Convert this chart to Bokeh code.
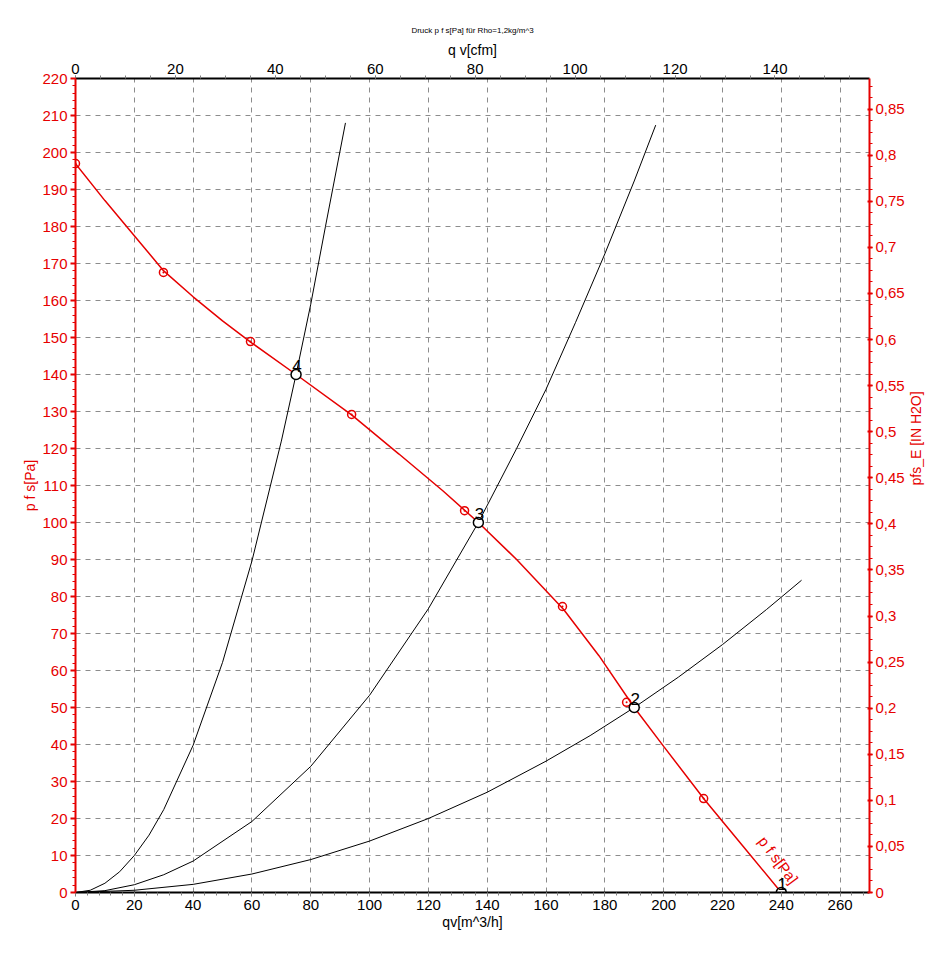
import math
from bokeh.plotting import figure
from bokeh.models import (Range1d, LinearAxis, SingleIntervalTicker, CustomJSTickFormatter,
                          ColumnDataSource, Label)
from bokeh.core.properties import value
from bokeh.embed import file_html
from bokeh.resources import INLINE

# ---------------- data ----------------
# fan curve p_fs [Pa] vs qv [m^3/h]
fan_x = [0, 10, 20, 30, 40, 50, 60, 75, 94, 110, 125, 137, 150, 166, 178, 190, 200, 214, 227, 240]
fan_y = [197, 187, 177.5, 168, 161, 154.5, 148.5, 140, 129, 118.5, 108.5, 100, 90, 76.5, 64, 50, 39.5, 25, 12.5, 0]
# measured points on the fan curve
meas_x = [0, 29.9, 59.5, 93.9, 132.3, 165.6, 187.4, 213.6]
meas_y = [197, 167.6, 148.9, 129.2, 103.2, 77.3, 51.4, 25.4]

# system curves
sys4_x = [0, 5, 10, 15, 20, 25, 30, 40, 50, 60, 70, 75, 80, 85, 91.8]
sys4_y = [0, 0.6, 2.5, 5.6, 10, 15.5, 22.4, 39.8, 62.2, 89.6, 122, 140, 159, 180, 208]
sys3_x = [0, 10, 20, 30, 40, 60, 80, 100, 120, 137, 150, 160, 170, 180, 190, 197.3]
sys3_y = [0, 0.5, 2.1, 4.8, 8.5, 19.2, 34.1, 53.3, 76.7, 100, 120, 136, 154, 172.6, 192.3, 207.4]
sys2_x = [0, 20, 40, 60, 80, 100, 120, 140, 160, 175, 190, 205, 220, 235, 246.9]
sys2_y = [0, 0.6, 2.2, 5, 8.9, 13.9, 20, 27.1, 35.5, 42.4, 50, 58.2, 67, 76.5, 84.4]

# operating points
op_x = [240, 190, 137, 75]
op_y = [0, 50, 100, 140]
op_labels = ["1", "2", "3", "4"]

# axis units
M3H_TO_CFM = 0.588578
PA_PER_INH2O = 249.089
X_MAX = 270
Y_MAX = 220

RED = "#e60000"
FONT = "Liberation Sans"

p = figure(width=949, height=963, output_backend="svg", toolbar_location=None,
           x_range=Range1d(0, X_MAX), y_range=Range1d(0, Y_MAX),
           min_border_left=75, min_border_right=80, min_border_top=78, min_border_bottom=71)
p.outline_line_color = None
p.background_fill_color = "white"
p.border_fill_color = "white"

p.title.text = "Druck p f s[Pa] für Rho=1,2kg/m^3"
p.title.align = "center"
p.title.text_font = FONT
p.title.text_font_size = "8px"
p.title.text_font_style = "normal"
p.title.text_color = "black"
p.title.standoff = 8

# bottom axis
bx = p.below[0]
bt = SingleIntervalTicker(interval=20, num_minor_ticks=5)
bx.ticker = bt
bx.axis_label = "qv[m^3/h]"
bx.axis_line_color = "black"
bx.axis_line_width = 2
bx.major_tick_line_color = "#808080"
bx.minor_tick_line_color = "#808080"
bx.major_tick_out = 4
bx.major_tick_in = 0
bx.minor_tick_out = 3
bx.minor_tick_in = 0
bx.major_label_standoff = 3
bx.axis_label_standoff = 1

# left axis
ly = p.left[0]
lt = SingleIntervalTicker(interval=10, num_minor_ticks=5)
ly.ticker = lt
ly.axis_label = "p f s[Pa]"
ly.axis_line_color = RED
ly.axis_line_width = 2
ly.major_tick_line_color = RED
ly.minor_tick_line_color = RED
ly.major_tick_line_width = 2
ly.major_tick_out = 5
ly.major_tick_in = 0
ly.minor_tick_out = 3
ly.minor_tick_in = 0
ly.major_label_standoff = 3
ly.axis_label_standoff = 1

p.xgrid.ticker = bt
p.ygrid.ticker = lt
for g in (p.xgrid, p.ygrid):
    g.grid_line_color = "#8c8c8c"
    g.grid_line_dash = "5 5"
    g.grid_line_width = 1

# top axis (cfm)
p.extra_x_ranges = {"cfm": Range1d(0, X_MAX * M3H_TO_CFM)}
tx = LinearAxis(x_range_name="cfm", ticker=SingleIntervalTicker(interval=20, num_minor_ticks=4),
                axis_label="q v[cfm]")
tx.axis_line_color = "black"
tx.axis_line_width = 2
tx.major_tick_line_color = "#808080"
tx.minor_tick_line_color = "#808080"
tx.major_tick_out = 3
tx.major_tick_in = 0
tx.minor_tick_out = 3
tx.minor_tick_in = 0
tx.major_label_standoff = 2
tx.axis_label_standoff = 3
p.add_layout(tx, "above")

# right axis (in H2O)
p.extra_y_ranges = {"inh2o": Range1d(0, Y_MAX / PA_PER_INH2O)}
ry = LinearAxis(y_range_name="inh2o", ticker=SingleIntervalTicker(interval=0.05, num_minor_ticks=4),
                axis_label="pfs_E [IN H2O]")
ry.formatter = CustomJSTickFormatter(code="""
    let s = tick.toFixed(2);
    s = s.replace(/0+$/, '').replace(/\\.$/, '');
    return s.replace('.', ',');
""")
ry.axis_line_color = RED
ry.axis_line_width = 2
ry.major_tick_line_color = RED
ry.minor_tick_line_color = RED
ry.major_tick_line_width = 2
ry.major_tick_out = 3
ry.major_tick_in = 2
ry.minor_tick_out = 3
ry.minor_tick_in = 0
ry.major_label_standoff = 3
ry.axis_label_standoff = 8
try:
    ry.axis_label_orientation = math.pi / 2
except Exception:
    pass
p.add_layout(ry, "right")

for ax, col in ((bx, "black"), (tx, "black"), (ly, RED), (ry, RED)):
    ax.major_label_text_font = FONT
    ax.major_label_text_font_size = "15px"
    ax.major_label_text_color = col
    ax.axis_label_text_font = FONT
    ax.axis_label_text_font_size = "14px"
    ax.axis_label_text_font_style = "normal"
    ax.axis_label_text_color = col

# system curves
p.line(sys4_x, sys4_y, line_color="black", line_width=1)
p.line(sys3_x, sys3_y, line_color="black", line_width=1)
p.line(sys2_x, sys2_y, line_color="black", line_width=1)

# fan curve
p.line(fan_x, fan_y, line_color=RED, line_width=1.5)
p.scatter(meas_x, meas_y, marker="circle_dot", size=8, line_color=RED, fill_color=None, line_width=1.5)

# operating points
src = ColumnDataSource(dict(x=op_x, y=op_y, t=op_labels))
p.scatter("x", "y", source=src, marker="circle", size=10, line_color="black", fill_color="white", line_width=1.5)
p.text("x", "y", text="t", source=src, text_align="center", text_baseline="bottom",
       x_offset=1, y_offset=-3, text_font=value(FONT), text_font_size="17px", text_color="black")

# curve label (kept inside the frame so it is not clipped)
p.add_layout(Label(x=239.0, y=8.8, text="p f s[Pa]", angle=-0.93, text_align="center",
                   text_baseline="middle", text_font=FONT, text_font_size="15px", text_color=RED,
                   level="overlay"))

open("out.html", "w").write(file_html(p, INLINE))
